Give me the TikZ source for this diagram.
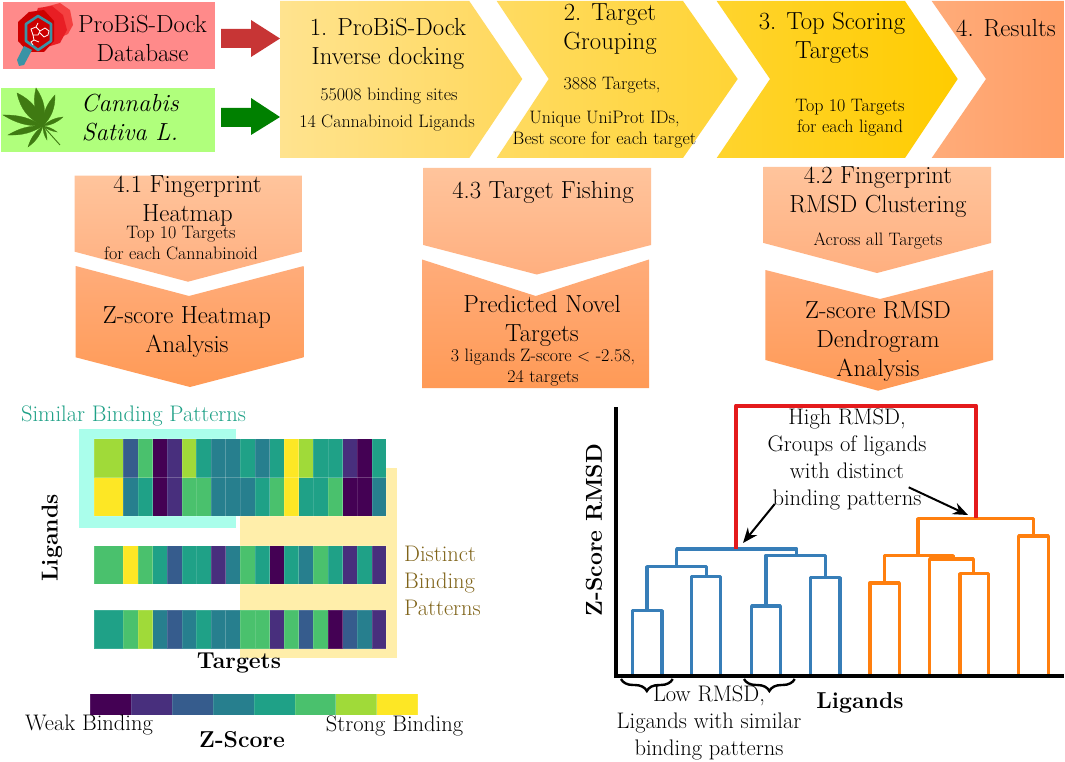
\documentclass[tikz,border=0pt]{standalone}
\usepackage{fontspec}
\usetikzlibrary{arrows.meta,decorations.pathreplacing}
\definecolor{vA}{HTML}{440154}
\definecolor{vB}{HTML}{482F7D}
\definecolor{vC}{HTML}{365C8D}
\definecolor{vD}{HTML}{277F8E}
\definecolor{vE}{HTML}{1FA187}
\definecolor{vF}{HTML}{4AC16D}
\definecolor{vG}{HTML}{A0DA39}
\definecolor{vH}{HTML}{FDE725}
\definecolor{dblue}{HTML}{377EB8}
\definecolor{dorange}{HTML}{FF7F0E}
\definecolor{dred}{HTML}{E41A1C}
\definecolor{leafgreen}{HTML}{3F7A12}
\tikzset{
  big/.style={font=\fontsize{24.7}{29}\selectfont,align=center,inner sep=0pt},
  small/.style={font=\fontsize{18}{21}\selectfont,align=center,inner sep=0pt},
  lab/.style={font=\fontsize{22.5}{27}\selectfont,align=center,inner sep=0pt},
  blab/.style={font=\fontsize{23}{27}\selectfont\bfseries,align=center,inner sep=0pt},
  dend/.style={line width=3.4pt,line join=round},
  cell/.style={fill=#1,draw=white,draw opacity=.13,line width=.5pt},
  callout/.style={line width=2pt,-{Stealth[length=15pt,width=12pt]}},
  curly/.style={line width=2.4pt,decorate,decoration={brace,amplitude=12pt,aspect=.5}},
  leaflet/.style={fill=leafgreen,draw=leafgreen,line width=.3pt}
}
\begin{document}
\begin{tikzpicture}[x=1pt,y=-1pt]
\useasboundingbox (0,0) rectangle (1065,762);
% source boxes
\fill[fill=white] (0,0) rectangle (1065,762);
\fill[fill={rgb,255:red,255;green,138;blue,138}] (3,2) rectangle (215,69);
\fill[fill={rgb,255:red,176;green,255;blue,124}] (1,88) rectangle (215,152);
% logo
\fill[fill={rgb,255:red,244;green,64;blue,64}] (45,7) -- (60,3) -- (70,10) -- (73,25) -- (68,34) -- (50,42) -- (36,30) -- cycle;
\fill[fill={rgb,255:red,232;green,30;blue,36}] (38,8) -- (52,6) -- (63,15) -- (67,30) -- (60,43) -- (44,48) -- (30,30) -- cycle;
\fill[fill={rgb,255:red,204;green,0;blue,0}] (29,12) -- (44,10) -- (54,21) -- (54,41) -- (44,52) -- (28,52) -- (18,41) -- (18,22) -- cycle;
\fill[fill={rgb,255:red,58;green,147;blue,165}] (24,46) -- (32,50) -- (24,65) -- (19,66) -- (17,60) -- cycle;
\draw[draw={rgb,255:red,58;green,147;blue,165},line width=2.6pt,line join=round] (38,16) -- (51,24) -- (51,41) -- (38,50) -- (26,41) -- (26,24) -- cycle;
\draw[white,line width=.8pt] (31,29) -- (36,27) -- (40,31) -- (38,35) -- (33,35) -- cycle (40,31) -- (45,28) -- (49,31) -- (48,35) -- (44,37) -- (40,33) (33,35) -- (34,40) -- (31,42) -- (33,45) (36,27) -- (38,23) (34,40) -- (39,42);
% cannabis leaf
\foreach \tx/\ty/\bd in {36/88/24,55/95/22,63/117/18,17/93/26,3/115/16,8/135/16,28/147/18,57/132/14,47/140/16}
  \path[leaflet] (43,126) to[bend left=\bd] (\tx,\ty) to[bend left=\bd] (43,126);
\draw[draw=leafgreen,line width=.9pt] (43,126) -- (60,145);
% block arrows
\fill[fill={rgb,255:red,199;green,53;blue,53}] (221,29) -- (251,29) -- (251,20) -- (280,38.5) -- (251,57) -- (251,48) -- (221,48) -- cycle;
\fill[fill={rgb,255:red,0;green,128;blue,0}] (221,108) -- (251,108) -- (251,98) -- (280,117) -- (251,135) -- (251,127) -- (221,127) -- cycle;
% top chevrons
\path[left color={rgb,255:red,255;green,227;blue,143},right color={rgb,255:red,255;green,216;blue,92}] (280,1) -- (469.3,1) -- (522.3,79) -- (469.3,158) -- (280,158) -- cycle;
\path[left color={rgb,255:red,255;green,219;blue,98},right color={rgb,255:red,255;green,212;blue,53}] (496.7,1) -- (683,1) -- (737.7,79) -- (683,158) -- (496.7,158) -- (548.7,79) -- cycle;
\path[left color={rgb,255:red,255;green,212;blue,46},right color={rgb,255:red,255;green,204;blue,0}] (716.7,1) -- (905,1) -- (957.7,79) -- (905,158) -- (716.7,158) -- (770,79) -- cycle;
\path[left color={rgb,255:red,255;green,172;blue,122},right color={rgb,255:red,255;green,158;blue,102}] (931.7,1) -- (1064,1) -- (1064,158) -- (931.7,158) -- (986,79) -- cycle;
% second-row chevrons
\path[top color={rgb,255:red,255;green,196;blue,156},bottom color={rgb,255:red,255;green,175;blue,127}] (74.7,175.7) -- (302,175.7) -- (302,251.7) -- (188,281.7) -- (74.7,251.7) -- cycle;
\path[top color={rgb,255:red,255;green,172;blue,122},bottom color={rgb,255:red,255;green,154;blue,86}] (75.7,266) -- (189,296) -- (303.7,266) -- (303.7,357.3) -- (190,387) -- (75.7,357.3) -- cycle;
\path[top color={rgb,255:red,255;green,196;blue,156},bottom color={rgb,255:red,255;green,175;blue,127}] (423.3,168) -- (651,168) -- (651,245) -- (536.8,274.5) -- (423.3,245) -- cycle;
\path[top color={rgb,255:red,255;green,172;blue,122},bottom color={rgb,255:red,255;green,154;blue,86}] (422,259.5) -- (535.7,296) -- (649,259.5) -- (649,388) -- (422,388) -- cycle;
\path[top color={rgb,255:red,255;green,196;blue,156},bottom color={rgb,255:red,255;green,175;blue,127}] (763.6,167) -- (991,167) -- (991,243) -- (877,273) -- (763.6,243) -- cycle;
\path[top color={rgb,255:red,255;green,172;blue,122},bottom color={rgb,255:red,255;green,154;blue,86}] (765.4,270) -- (880,299) -- (993,270) -- (993,360) -- (878,390.7) -- (765.4,360) -- cycle;
% top texts
\node[big] (probis) at (142.5,38.5) {ProBiS-Dock\\Database};
\node[big,font=\fontsize{24.7}{29}\selectfont\itshape] (cann) at (130,117.5) {Cannabis\\Sativa L.};
\node[big] (s1) at (388,43.5) {1. ProBiS-Dock\\Inverse docking};
\node[small] (s1a) at (389,96) {55008 binding sites};
\node[small] (s1b) at (387,123) {14 Cannabinoid Ligands};
\node[big] (s2) at (610,29) {2. Target\\Grouping};
\node[small] (s2a) at (612,85) {3888 Targets,};
\node[small] (s2b) at (604.5,130) {Unique UniProt IDs,\\Best score for each target};
\node[big] (s3) at (832,38) {3. Top Scoring\\Targets};
\node[small] (s3a) at (850,117.5) {Top 10 Targets\\for each ligand};
\node[big] (s4) at (1006,28) {4. Results};
% second-row texts
\node[big] (f1) at (187.5,200.5) {4.1 Fingerprint\\Heatmap};
\node[small] (f1a) at (181,243.5) {Top 10 Targets\\for each Cannabinoid};
\node[big] (h1) at (187,332) {Z-score Heatmap\\Analysis};
\node[big] (f3) at (543,192) {4.3 Target Fishing};
\node[big] (h3) at (542,320.5) {Predicted Novel\\Targets};
\node[small] (h3a) at (543,368) {3 ligands Z-score $<$ -2.58,\\24 targets};
\node[big] (f2) at (878,192.5) {4.2 Fingerprint\\RMSD Clustering};
\node[small] (f2a) at (878,241) {Across all Targets};
\node[big] (h2) at (878,341) {Z-score RMSD\\Dendrogram\\Analysis};
% heatmap highlights
\fill[fill={rgb,255:red,170;green,254;blue,235}] (79,428.5) rectangle (236,528);
\fill[fill={rgb,255:red,255;green,238;blue,170}] (240,468) rectangle (397,658);
% heatmap
\foreach \ya/\yb/\vals in {438.5/477.5/{G,C,F,A,B,G,E,D,D,E,D,E,H,G,E,E,B,A,E},
                           477.5/516/{H,D,E,A,B,F,F,D,D,D,E,F,H,E,E,F,A,A,D},
                           545.5/584/{F,H,F,E,C,E,E,B,D,F,E,A,E,D,F,E,B,E,B},
                           610/648.5/{E,F,G,D,C,D,E,D,D,F,F,B,F,C,F,A,C,D,B}}{
  \foreach \c [count=\i from 0] in \vals {
    \pgfmathsetmacro{\xa}{\i==0 ? 94 : 123.3+(\i-1)*14.62}
    \pgfmathsetmacro{\xb}{123.3+\i*14.62}
    \path[cell=v\c] (\xa,\ya) rectangle (\xb,\yb);
  }
}
% colour bar
\foreach \c [count=\i from 0] in {A,B,C,D,E,F,G,H}
  \path[cell=v\c] (90.3+\i*40.9,693.5) rectangle (90.3+\i*40.9+40.9,715);
% heatmap texts
\node[lab,text={rgb,255:red,31;green,161;blue,135}] (sim) at (133.5,416) {Similar Binding Patterns};
\node[blab,rotate=90] (lig) at (52,538) {Ligands};
\node[blab] (tar) at (239,663) {Targets};
\node[lab,text={rgb,255:red,128;green,100;blue,26},align=left,anchor=west] (dis) at (404,581) {Distinct\\Binding\\Patterns};
\node[lab] (weak) at (89,725) {Weak Binding};
\node[lab] (strong) at (394.5,726) {Strong Binding};
\node[blab] (zs) at (242,740) {Z-Score};
% dendrogram
\draw[dend,dblue] (632.3,676) |- (662,610.7) -- (662,676);
\draw[dend,dblue] (691.7,676) |- (720.7,576.7) -- (720.7,676);
\draw[dend,dblue] (647,610.7) |- (706.7,566.7) -- (706.7,576.7);
\draw[dend,dblue] (751.7,676) |- (780.3,606) -- (780.3,676);
\draw[dend,dblue] (810.7,676) |- (840,577.7) -- (840,676);
\draw[dend,dblue] (766,606) |- (825.3,555.3) -- (825.3,577.7);
\draw[dend,dblue] (676.7,566.7) |- (796.7,549) -- (796.7,555.3);
\draw[dend,dorange] (870,676) |- (899.3,583) -- (899.3,676);
\draw[dend,dorange] (960,676) |- (988.3,573.7) -- (988.3,676);
\draw[dend,dorange] (929.7,676) |- (973.3,559) -- (973.3,573.7);
\draw[dend,dorange] (884.7,583) |- (953,555.7) -- (953,559);
\draw[dend,dorange] (1018.7,676) |- (1048.3,536) -- (1048.3,676);
\draw[dend,dorange] (918,555.7) |- (1033.3,518.7) -- (1033.3,536);
\draw[line width=4.4pt,dred,line join=round] (736,549) |- (976,405.7) -- (976,518);
% axes
\draw[line width=4pt] (616,407) -- (616,678);
\draw[line width=4pt] (614,676) -- (1064,676);
% dendrogram texts
\node[lab] (high) at (847,459) {High RMSD,\\Groups of ligands\\with distinct\\binding patterns};
\node[lab] (low) at (709,723) {Low RMSD,\\Ligands with similar\\binding patterns};
\node[blab] (lx) at (860,703) {Ligands};
\node[blab,rotate=90] (ly) at (594,530) {Z-Score RMSD};
\coordinate (ha) at (908.7,487.3);
\coordinate (hb) at (968,515);
\coordinate (hc) at (774.7,504);
\coordinate (hd) at (743,543);
\draw[callout] (ha) -- (hb);
\draw[callout] (hc) -- (hd);
\coordinate (ba) at (621,679); \coordinate (bb) at (672.7,679);
\coordinate (bc) at (744,679); \coordinate (bd) at (794.7,679);
\draw[curly] (bb) -- (ba);
\draw[curly] (bd) -- (bc);
\end{tikzpicture}
\end{document}
